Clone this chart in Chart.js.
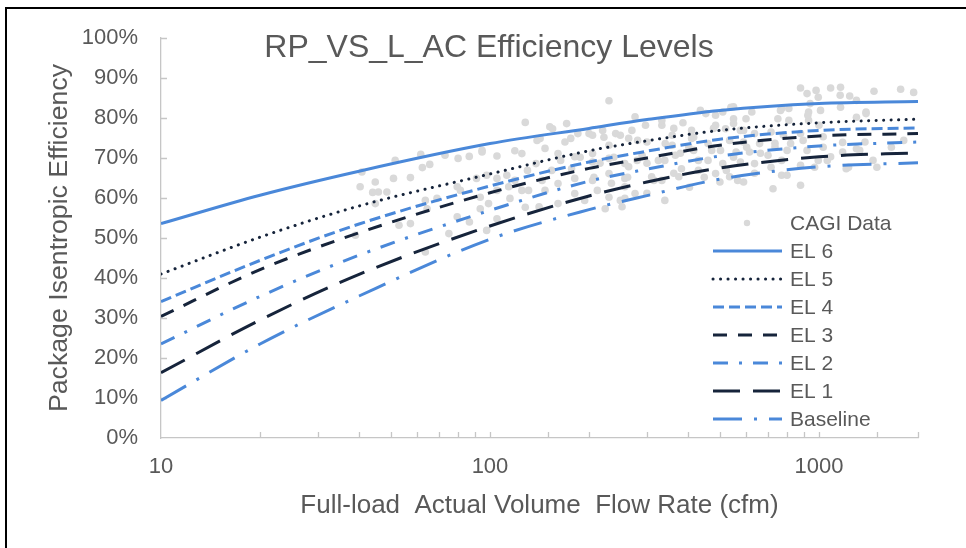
<!DOCTYPE html>
<html><head><meta charset="utf-8">
<script src="https://cdn.jsdelivr.net/npm/chart.js@4.4.1/dist/chart.umd.min.js"></script>
<style>
html,body{margin:0;padding:0;background:#fff;}
#wrap{position:relative;width:966px;height:548px;overflow:hidden;}
#frame{position:absolute;left:5px;top:7px;right:-4px;bottom:-4px;border-left:2px solid #000;border-top:2px solid #000;pointer-events:none;}
canvas{display:block;}
</style></head><body>
<div id="wrap"><canvas id="c" width="966" height="548"></canvas><div id="frame"></div></div>
<script>
// ---- data ----
const chartTitle = 'RP_VS_L_AC Efficiency Levels';
const xTitle = 'Full-load  Actual Volume  Flow Rate (cfm)';
const yTitle = 'Package Isentropic Efficiency';
const xTickLabels = [10, 100, 1000];
const yTickValues = [0,10,20,30,40,50,60,70,80,90,100];

// efficiency-level curves (flow in cfm, efficiency in %)
const levelFlow = [10, 20, 40, 100, 200, 300, 500, 1000, 2000];
const el6      = [53.6, 60.7, 66.7, 73.6, 77.4, 79.6, 81.9, 83.6, 84.1];
const el5      = [41.0, 50.2, 58.0, 66.0, 71.8, 74.3, 76.9, 78.8, 79.7];
const el4      = [34.1, 44.4, 53.5, 63.0, 69.0, 71.7, 74.7, 76.9, 77.5];
const el3      = [30.4, 42.1, 51.3, 61.3, 67.4, 70.0, 73.2, 75.5, 76.1];
const el2      = [23.5, 35.4, 45.7, 56.9, 64.2, 67.2, 70.5, 73.0, 74.0];
const el1      = [16.3, 29.5, 40.9, 53.0, 60.5, 64.0, 67.5, 70.3, 71.3];
const baseline = [9.4, 23.5, 35.5, 49.7, 57.1, 60.6, 64.7, 67.8, 68.8];

// CAGI data points
const cagiFlow = [
128,61.6,65.6,62.3,73,80,86.5,94.6,105,119,125,40.8,44.8,40.3,50.9,57.3,45.8,48.6,44.8,52.9,
57.3,39,63.6,64.4,69,79.5,81.3,91,97.7,105,112.5,114,125,105,93.4,99,115,79.5,86.6,105,
97.7,75,63.6,93.4,128,130,119,
230,171,152,185,205,142,169,241,270,297,333,386,410,485,510,453,358,341,300,264,
230,147,161,181,138,154,177,205,230,257,290,325,366,430,472,382,430,485,310,257,
230,205,181,161,144,131,147,181,212,257,276,252,333,375,230,194,257,141,161,224,
264,358,402,460,410,205,220,276,333,
879,1085,1470,1771,1940,920,995,1160,1240,1300,940,810,770,550,625,930,1390,550,600,750,
810,930,1000,520,577,637,715,780,879,1030,535,590,660,735,820,920,1085,1180,1300,1380,
560,615,700,577,510,637,770,879,995,1210,535,590,770,879,725,500,
155,94.6,566,
139,176,200,222,249,281,362,416,478,550,590,436,485,540,764,925,1011,1163,1300,1390,980,1163,
164,188,216,238,280,300,340,379,416,460,502,550,603,664,735,800,895,1030,1180,1330,1460,1660,1810,
207,234,262,315,362,404,448,523,637,715,800,970,1060,1230,1500,249,300,340,44,51.5
];
const cagiEff = [
78.9,70.9,68.4,67.6,70.7,69.9,70.4,71.5,70.5,71.8,71.1,66.5,64,62.8,64.9,65.1,61.5,61.5,58.6,53.2,
53.6,50.7,59.4,57.3,59.9,62.8,61.9,64.9,65.7,64.9,65.7,62.8,61.9,61.9,60.2,58.6,59.9,55.3,54,54.8,
51.9,51.1,46.5,57.3,57.7,66.9,64.4,
84.3,78.6,77.8,76.1,75.7,74.9,74,76.1,76.9,78.2,78.2,78.8,76.9,78.2,81.5,81.1,75.7,73.6,74,74.9,
73.2,72.4,71.1,70.3,68.6,66.9,67.3,69,69.9,68.6,70.7,69.4,70.7,69.4,71.9,67.3,66.9,66.1,65.3,64.9,
66.1,64.4,64.9,63.6,64.4,61.9,61.9,61.1,61.9,62.8,61.1,57.8,64.4,65.3,60.2,59.4,59.9,57.8,58.6,57.3,
67.8,73.2,72.8,73.6,74.9,71.1,76.9,80.3,79.4,
87.5,87.5,86.7,87.2,86.4,86.1,85.2,85.7,85.5,84.4,83.6,82.4,82.4,82.8,81.5,81.5,81.5,79.8,79.8,79.8,
79.4,79.4,78.2,77.3,76.9,76.1,76.5,75.7,76.1,75.3,74.4,74,73.6,72.8,73.6,71.9,70.3,71.5,72.3,74,
71.5,71.5,70.7,69,68.6,68.6,69.4,68.2,69.4,67.3,65.3,64,65.7,63.2,62.3,64,
77.3,71.9,64.4,
74.4,74.9,76.1,75.2,75.7,74.4,77.4,75.2,77.4,78.6,76.9,81.9,80.7,82.7,81.9,80.7,81.9,82.7,80.2,81.1,86.9,87.7,
69.4,70.2,68.7,70.2,69.4,68.7,69.4,71.2,71.9,69.4,71.9,70.2,72.7,71.2,73.7,71.9,74.4,72.7,73.9,71.9,69.4,72.7,74.4,
65.2,63.7,65.2,64.4,66.2,62.7,65.2,66.9,66.2,67.7,65.7,67.7,69.4,67.7,67.7,59.4,61.2,59.4,61.4,69.4
];

// ---- styles ----
const BLUE = '#4a88d9';
const NAVY = '#16243b';
const GREY_TXT = '#595959';
const AXIS = '#c6c6c6';
const FONT = '"Liberation Sans", Arial, sans-serif';

const pts = (xs, ys) => xs.map((x, i) => ({x: x, y: ys[i]}));
function curve(label, ys, color, dash, cap) {
  return {
    label, data: pts(levelFlow, ys), showLine: true, borderColor: color, backgroundColor: color,
    borderWidth: 3, borderDash: dash, borderCapStyle: cap || 'butt', pointRadius: 0,
    pointHoverRadius: 0, cubicInterpolationMode: 'monotone', fill: false, order: 1
  };
}

const datasets = [
  {label: 'CAGI Data', data: pts(cagiFlow, cagiEff), showLine: false, pointRadius: 3.8,
   pointBackgroundColor: '#d9d9d9', pointBorderWidth: 0, backgroundColor: '#d9d9d9',
   borderColor: '#d9d9d9', order: 5},
  curve('EL 6', el6, BLUE, []),
  curve('EL 5', el5, NAVY, [0.1, 7.4], 'round'),
  curve('EL 4', el4, BLUE, [11, 5]),
  curve('EL 3', el3, NAVY, [14, 11]),
  curve('EL 2', el2, BLUE, [15, 11, 3, 11]),
  curve('EL 1', el1, NAVY, [27, 13]),
  curve('Baseline', baseline, BLUE, [29, 12, 3, 12])
];

// title drawn inside plot area
const innerTitle = {
  id: 'innerTitle',
  afterDraw(chart) {
    const ctx = chart.ctx, a = chart.chartArea;
    ctx.save();
    ctx.font = '32px ' + FONT;
    ctx.fillStyle = GREY_TXT;
    ctx.textAlign = 'center';
    ctx.textBaseline = 'alphabetic';
    ctx.fillText(chartTitle, a.left + 328, a.top + 19);
    ctx.restore();
  }
};

// inside tick marks
const insideTicks = {
  id: 'insideTicks',
  beforeDatasetsDraw(chart) {
    const ctx = chart.ctx, a = chart.chartArea;
    const xs = chart.scales.x, ys = chart.scales.y;
    ctx.save();
    ctx.strokeStyle = AXIS; ctx.lineWidth = 1.3;
    ctx.beginPath();
    xs.ticks.forEach(t => {
      const p = Math.round(xs.getPixelForValue(t.value)) + 0.5;
      if (t.value === xs.min) return;
      ctx.moveTo(p, a.bottom); ctx.lineTo(p, a.bottom - 6);
    });
    ys.ticks.forEach(t => {
      const p = Math.round(ys.getPixelForValue(t.value)) + 0.5;
      if (t.value === ys.min) return;
      ctx.moveTo(a.left, p); ctx.lineTo(a.left + 6, p);
    });
    ctx.stroke();
    ctx.restore();
  }
};

// legend inside the plot area
const innerLegend = {
  id: 'innerLegend',
  afterDraw(chart) {
    const ctx = chart.ctx, a = chart.chartArea;
    const x0 = a.left + 552, x1 = a.left + 621, tx = a.left + 629;
    let y = a.top + 185;
    const step = 28;
    ctx.save();
    ctx.font = '21px ' + FONT;
    ctx.textBaseline = 'middle';
    ctx.textAlign = 'left';
    chart.data.datasets.forEach(ds => {
      if (ds.showLine === false) {
        ctx.fillStyle = ds.pointBackgroundColor;
        ctx.beginPath(); ctx.arc((x0 + x1) / 2 - 0.5, y, 3.2, 0, Math.PI * 2); ctx.fill();
      } else {
        ctx.strokeStyle = ds.borderColor; ctx.lineWidth = ds.borderWidth;
        ctx.setLineDash(ds.borderDash); ctx.lineCap = ds.borderCapStyle;
        ctx.beginPath(); ctx.moveTo(x0, y); ctx.lineTo(x1, y); ctx.stroke();
        ctx.setLineDash([]); ctx.lineCap = 'butt';
      }
      ctx.fillStyle = GREY_TXT;
      ctx.fillText(ds.label, tx, y + 1);
      y += step;
    });
    ctx.restore();
  }
};

new Chart(document.getElementById('c'), {
  type: 'scatter',
  data: {datasets},
  plugins: [insideTicks, innerTitle, innerLegend],
  options: {
    responsive: false, animation: false, devicePixelRatio: 1,
    layout: {padding: {left: 20, right: 48, top: 38, bottom: 20}},
    plugins: {legend: {display: false}, title: {display: false}, tooltip: {enabled: false}},
    scales: {
      x: {
        type: 'logarithmic', min: 10, max: 2000,
        border: {display: true, color: AXIS, width: 1.3},
        grid: {display: true, drawOnChartArea: false, drawTicks: false},
        afterFit: s => { s.height = 90; },
        ticks: {
          autoSkip: false, maxRotation: 0, padding: 16, color: GREY_TXT,
          font: {family: FONT, size: 22},
          callback: v => xTickLabels.includes(v) ? String(v) : ''
        },
        title: {display: true, text: xTitle, color: GREY_TXT, font: {family: FONT, size: 26},
                padding: {top: 0, bottom: 7}}
      },
      y: {
        min: 0, max: 100,
        afterBuildTicks: s => { s.ticks = yTickValues.map(v => ({value: v})); },
        border: {display: true, color: AXIS, width: 1.3},
        grid: {display: true, drawOnChartArea: false, drawTicks: false},
        afterFit: s => { s.width = 141; },
        ticks: {
          padding: 23, color: GREY_TXT, font: {family: FONT, size: 22},
          callback: v => v + '%'
        },
        title: {display: true, text: yTitle, color: GREY_TXT, font: {family: FONT, size: 26.7},
                padding: {top: 24, bottom: 0}}
      }
    }
  }
});
</script>
</body></html>
